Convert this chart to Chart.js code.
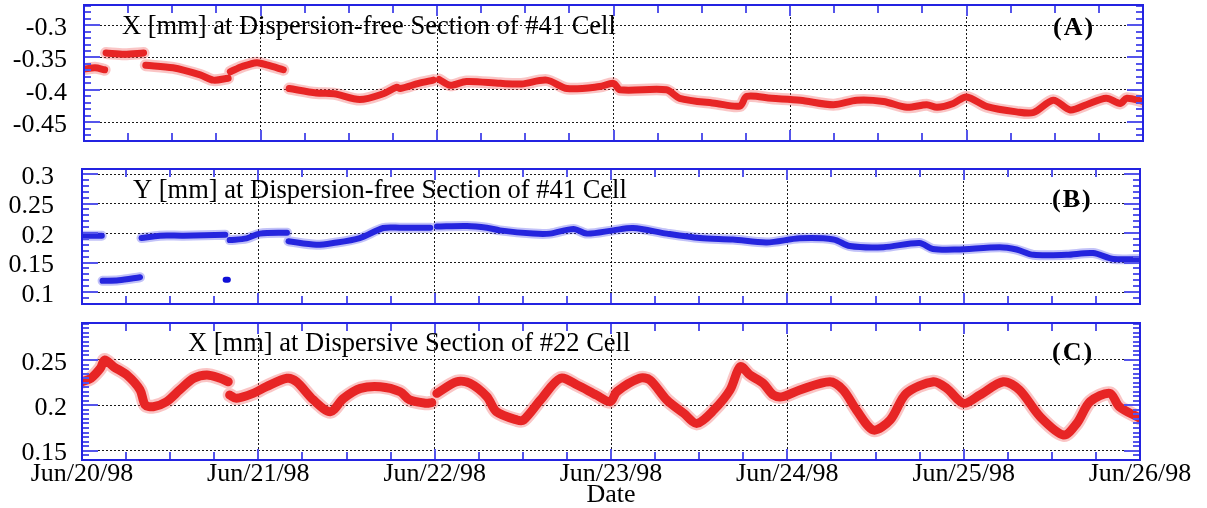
<!DOCTYPE html>
<html><head><meta charset="utf-8">
<script src="https://cdn.jsdelivr.net/npm/chart.js@4.4.1/dist/chart.umd.min.js"></script>
<style>
html,body{margin:0;padding:0;background:#fff;}
#wrap{position:relative;width:1207px;height:508px;overflow:hidden;background:#fff;}
canvas{position:absolute;left:0;top:0;}
</style>
</head><body>
<div id="wrap">
<canvas id="cA" width="1207" height="508"></canvas>
<canvas id="cB" width="1207" height="508"></canvas>
<canvas id="cC" width="1207" height="508"></canvas>
</div>
<script>
// ---- categories / ticks ----
const dayHours = [0, 24, 48, 72, 96, 120, 144];
const dayLabels = ['Jun/20/98','Jun/21/98','Jun/22/98','Jun/23/98','Jun/24/98','Jun/25/98','Jun/26/98'];
const aTicks = [-0.45, -0.4, -0.35, -0.3];
const aTickLabels = ['-0.45', '-0.4', '-0.35', '-0.3'];
const bTicks = [0.1, 0.15, 0.2, 0.25, 0.3];
const bTickLabels = ['0.1', '0.15', '0.2', '0.25', '0.3'];
const cTicks = [0.15, 0.2, 0.25];
const cTickLabels = ['0.15', '0.2', '0.25'];

// ---- (A) X [mm] at dispersion-free section of #41 cell ----
const aHours = [0, 1.5, 2.8, 2.9, 3.0, 5.5, 8.1, 8.2, 8.4, 12.1, 15.8, 17.6, 19.6, 19.75, 19.9, 21.5, 23.5, 25.0, 27.1, 27.5,
  27.9, 31.6, 34.0, 37.5, 40.7, 42.5, 43.0, 45.5, 47.5, 47.9, 48.3, 49.8, 52.0, 56.6, 59.5, 62.9, 65.7, 70.1, 72.0, 72.9,
  79.2, 81.0, 86.0, 89.2, 90.1, 93.5, 97.4, 101.9, 105.1, 108.7, 111.9, 114.6, 116.0, 118.2, 120.0, 122.8, 126.8, 129.1,
  131.8, 134.1, 136.3, 139.0, 140.9, 141.8, 144];
const aValues = [-0.368, -0.366, -0.369, null, -0.343, -0.345, -0.343, null, -0.362, -0.366, -0.377, -0.385, -0.382, null,
  -0.372, -0.364, -0.358, -0.362, -0.369, null, -0.398, -0.405, -0.406, -0.415, -0.406, -0.396, -0.398, -0.390, -0.385, null,
  -0.384, -0.393, -0.387, -0.390, -0.391, -0.385, -0.398, -0.395, -0.390, -0.400, -0.400, -0.413, -0.421, -0.425, -0.410,
  -0.413, -0.416, -0.423, -0.416, -0.418, -0.427, -0.423, -0.427, -0.421, -0.411, -0.426, -0.434, -0.435, -0.416, -0.431,
  -0.423, -0.413, -0.421, -0.413, -0.418];

// ---- (B) Y [mm] at dispersion-free section of #41 cell ----
const bHours = [0, 2.7, 2.75, 2.8, 5.0, 7.9, 8.0, 8.1, 10.6, 13.8, 19.5, 19.8, 20.1, 22.4, 24.2, 27.9, 28.0, 28.1, 31.9,
  34.2, 37.8, 41.0, 43.3, 47.4, 47.8, 48.3, 52.4, 55.1, 56.9, 61.4, 63.7, 66.9, 68.7, 72.3, 75.0, 79.6, 84.1, 88.6, 93.2,
  97.7, 102.3, 104.5, 109.1, 114.0, 115.8, 119.0, 124.9, 127.2, 129.5, 134.0, 137.6, 140.4, 144];
const bValues = [0.1955, 0.1955, null, 0.119, 0.120, 0.125, null, 0.1915, 0.1955, 0.1955, 0.197, null, 0.188, 0.191, 0.199,
  0.2005, null, 0.186, 0.180, 0.183, 0.1915, 0.2085, 0.209, 0.209, null, 0.211, 0.212, 0.209, 0.2045, 0.199, 0.199, 0.207,
  0.199, 0.2045, 0.2085, 0.199, 0.1915, 0.189, 0.184, 0.191, 0.189, 0.178, 0.176, 0.183, 0.173, 0.172, 0.176, 0.172, 0.163,
  0.163, 0.166, 0.156, 0.156];
const bBlobHours = [19.55, 19.85];
const bBlobValues = [0.121, 0.121];

// ---- (C) X [mm] at dispersive section of #22 cell ----
const cHours = [0, 1.2, 2.5, 3.1, 4.3, 6.1, 7.9, 8.6, 9.7, 11.5, 13.3, 15.2, 17.0, 18.8, 19.9, 20.0, 20.1, 21.0, 23.3, 25.1,
  27.9, 29.2, 31.5, 33.8, 35.6, 37.9, 40.6, 43.3, 44.6, 46.9, 47.6, 47.9, 48.3, 51.0, 52.8, 55.1, 56.4, 59.2, 60.1, 62.4,
  65.1, 67.4, 70.0, 71.9, 72.8, 75.9, 77.3, 79.6, 81.9, 83.7, 86.0, 88.2, 89.6, 90.9, 92.7, 94.1, 95.4, 97.7, 101.8, 103.6,
  105.4, 107.7, 110.0, 112.2, 115.9, 117.7, 120.0, 122.2, 125.4, 127.6, 130.4, 133.6, 135.4, 137.2, 139.9, 141.2, 144];
const cValues = [0.226, 0.2298, 0.2408, 0.250, 0.2426, 0.2335, 0.217, 0.2004, 0.1985, 0.204, 0.217, 0.2298, 0.2335, 0.2298,
  0.226, null, 0.2114, 0.2077, 0.2132, 0.2206, 0.2298, 0.226, 0.2059, 0.193, 0.2077, 0.2187, 0.2206, 0.215, 0.2059, 0.2022,
  0.203, null, 0.2132, 0.226, 0.2243, 0.2096, 0.193, 0.1838, 0.1838, 0.2059, 0.2298, 0.2224, 0.2114, 0.204, 0.2151, 0.2298,
  0.228, 0.2059, 0.1912, 0.1801, 0.1949, 0.2169, 0.2426, 0.2335, 0.2243, 0.2114, 0.2096, 0.2169, 0.226, 0.2169, 0.1949,
  0.1728, 0.1838, 0.2132, 0.226, 0.2187, 0.2022, 0.2114, 0.226, 0.2169, 0.1875, 0.1673, 0.1801, 0.204, 0.2132, 0.1985, 0.1857];

// ---------------------------------------------------------------
const SERIF = '"Liberation Serif", "Times New Roman", serif';
const W = 1207, H = 508;

function pts(hs, vs) { return hs.map((h, i) => ({ x: h, y: vs[i] })); }
function line(data, color, width) {
  return { data: data, borderColor: color, backgroundColor: color, borderWidth: width, pointRadius: 0,
    tension: 0.3, spanGaps: false, fill: false, borderCapStyle: 'round', borderJoinStyle: 'round' };
}

const framePlugin = {
  id: 'frame',
  afterDraw(chart, args, o) {
    const ctx = chart.ctx, a = chart.chartArea, x = chart.scales.x, y = chart.scales.y;
    ctx.save();
    ctx.lineWidth = 2;
    ctx.strokeStyle = 'rgb(85,85,235)';
    ctx.beginPath();
    for (let h = 0; h <= 144; h += 6) {
      const px = Math.round(x.getPixelForValue(h));
      const len = (h % 24 === 0) ? 11 : 8;
      ctx.moveTo(px, a.top); ctx.lineTo(px, a.top + len);
      ctx.moveTo(px, a.bottom); ctx.lineTo(px, a.bottom - len);
    }
    const n0 = Math.ceil(y.min / o.minor - 1e-6), n1 = Math.floor(y.max / o.minor + 1e-6);
    for (let k = n0; k <= n1; k++) {
      const v = k * o.minor;
      const py = Math.round(y.getPixelForValue(v));
      const major = Math.abs(v / 0.05 - Math.round(v / 0.05)) < 1e-6;
      const len = major ? 16 : 7;
      ctx.moveTo(a.left, py); ctx.lineTo(a.left + len, py);
      ctx.moveTo(a.right, py); ctx.lineTo(a.right - len, py);
    }
    ctx.stroke();
    ctx.strokeStyle = 'rgb(35,35,225)';
    ctx.lineWidth = 2;
    ctx.strokeRect(a.left, a.top, a.right - a.left, a.bottom - a.top);
    ctx.fillStyle = '#000';
    ctx.textBaseline = 'middle';
    ctx.textAlign = 'left';
    ctx.font = '26.5px ' + SERIF;
    ctx.fillText(o.title, o.titleX, o.titleY);
    ctx.font = 'bold 26px ' + SERIF;
    try { ctx.letterSpacing = '2px'; } catch (e) {}
    ctx.fillText(o.tag, o.tagX, o.tagY);
    ctx.restore();
  }
};

function makePanel(id, p) {
  const xTicksShown = !!p.showX;
  return new Chart(document.getElementById(id), {
    type: 'line',
    data: { datasets: p.datasets },
    plugins: [framePlugin],
    options: {
      responsive: false, animation: false, devicePixelRatio: 1,
      layout: { autoPadding: false, padding: { left: 0, right: W - p.right, top: p.top, bottom: p.bottomPad } },
      plugins: {
        legend: { display: false }, tooltip: { enabled: false },
        frame: { minor: p.minor, title: p.title, titleX: p.titleX, titleY: p.titleY, tag: p.tag, tagX: p.tagX, tagY: p.tagY }
      },
      scales: {
        x: {
          type: 'linear', min: 0, max: 144,
          afterBuildTicks: s => { s.ticks = dayHours.map(v => ({ value: v })); },
          afterFit: s => { s.height = p.xHeight; s.paddingLeft = 0; s.paddingRight = 0; },
          grid: { color: 'rgba(0,0,0,0.9)', lineWidth: 1, drawTicks: false },
          border: { display: false, dash: [2, 2] },
          ticks: { display: xTicksShown, autoSkip: false, maxRotation: 0, padding: 1, color: '#000',
            font: { family: SERIF, size: 26, lineHeight: 1 },
            callback: (v, i) => dayLabels[i] },
          title: { display: xTicksShown, text: 'Date', color: '#000', padding: 0,
            font: { family: SERIF, size: 26, lineHeight: 1 } }
        },
        y: {
          type: 'linear', min: p.ymin, max: p.ymax,
          afterBuildTicks: s => { s.ticks = p.ticks.map(v => ({ value: v })); },
          afterFit: s => { s.width = p.left; s.paddingTop = 0; s.paddingBottom = 0; },
          grid: { color: 'rgba(0,0,0,0.9)', lineWidth: 1, drawTicks: false },
          border: { display: false, dash: [2, 2] },
          ticks: { padding: p.labelPad, color: '#000', labelOffset: 3, autoSkip: false,
            font: { family: SERIF, size: 26 },
            callback: (v, i) => p.tickLabels[i] }
        }
      }
    }
  });
}

const RED = 'rgb(226,10,10)', RED_HALO = 'rgba(240,90,90,0.35)';
const BLUE = 'rgb(15,15,215)', BLUE_HALO = 'rgba(80,80,235,0.35)';

makePanel('cA', {
  left: 84, right: 1143, top: 5, bottomPad: H - 141, xHeight: 0,
  ymin: -0.479, ymax: -0.269, ticks: aTicks, tickLabels: aTickLabels, labelPad: 17, minor: 0.01,
  title: 'X [mm] at Dispersion-free Section of #41 Cell', titleX: 122, titleY: 27,
  tag: '(A)', tagX: 1053, tagY: 28,
  datasets: [line(pts(aHours, aValues), RED_HALO, 12), line(pts(aHours, aValues), RED, 7)]
});
makePanel('cB', {
  left: 82, right: 1140, top: 169, bottomPad: H - 304, xHeight: 0,
  ymin: 0.0797, ymax: 0.3085, ticks: bTicks, tickLabels: bTickLabels, labelPad: 28, minor: 0.01,
  title: 'Y [mm] at Dispersion-free Section of #41 Cell', titleX: 133, titleY: 191,
  tag: '(B)', tagX: 1052, tagY: 200,
  datasets: [line(pts(bHours, bValues), BLUE_HALO, 10), line(pts(bHours, bValues), BLUE, 6),
             line(pts(bBlobHours, bBlobValues), BLUE, 6)]
});
makePanel('cC', {
  left: 82, right: 1140, top: 323, bottomPad: 0, xHeight: 48, showX: true,
  ymin: 0.1397, ymax: 0.2908, ticks: cTicks, tickLabels: cTickLabels, labelPad: 15, minor: 0.005,
  title: 'X [mm] at Dispersive Section of #22 Cell', titleX: 188, titleY: 344,
  tag: '(C)', tagX: 1052, tagY: 353,
  datasets: [line(pts(cHours, cValues), RED_HALO, 14), line(pts(cHours, cValues), RED, 9)]
});
</script>
</body></html>
